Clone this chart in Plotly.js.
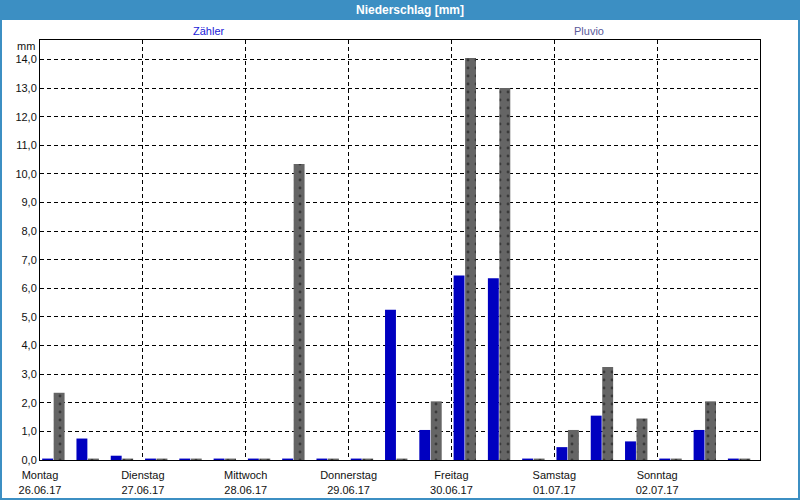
<!DOCTYPE html>
<html>
<head>
<meta charset="utf-8">
<script src="https://cdn.plot.ly/plotly-3.0.1.min.js"></script>
<style>html,body{margin:0;padding:0;background:#fff;}#chart{width:800px;height:500px;}</style>
</head>
<body>
<div id="chart"></div>
<script>
// ---- data ----
const dayNames = ["Montag", "Dienstag", "Mittwoch", "Donnerstag", "Freitag", "Samstag", "Sonntag"];
const dayDates = ["26.06.17", "27.06.17", "28.06.17", "29.06.17", "30.06.17", "01.07.17", "02.07.17"];
// three 8-hour intervals per day
const zaehler = [0.05, 0.75, 0.15, 0.05, 0.05, 0.05, 0.05, 0.05, 0.05, 0.05, 5.25, 1.05, 6.45, 6.35, 0.05, 0.45, 1.55, 0.65, 0.05, 1.05, 0.05];
const pluvio  = [2.35, 0.05, 0.05, 0.05, 0.05, 0.05, 0.05, 10.35, 0.05, 0.05, 0.05, 2.05, 14.05, 13.0, 0.05, 1.05, 3.25, 1.45, 0.05, 2.05, 0.05];
const seriesNames = ["Zähler", "Pluvio"];
const yMax = 14.68;

// ---- layout helpers ----
const W = 800, H = 500, L = 40, R = 40, T = 40, B = 40;
const pw = W - L - R, ph = H - T - B;
const px = x => (x - L) / pw;          // pixel -> paper x
const py = y => (H - B - y) / ph;      // pixel -> paper y

const slots = zaehler.map((_, i) => i);
const offset = 0.39;
const tickvals = dayNames.map((_, d) => 3 * d - offset);
const ticktext = dayNames.map((n, d) => n + "<br>" + dayDates[d]);

const font = "Liberation Sans, Arial, sans-serif";
const blue = "#0000c0";
const gray = "#656565";

const traces = [
  {type: "bar", x: slots, y: zaehler, name: seriesNames[0],
   marker: {color: blue, line: {width: 0}}, hoverinfo: "y"},
  {type: "bar", x: slots, y: pluvio, name: seriesNames[1],
   marker: {color: gray, line: {width: 0},
            pattern: {shape: ".", fgcolor: "#3a3a3a", bgcolor: gray, size: 8, solidity: 0.1}},
   hoverinfo: "y"}
];

const layout = {
  width: W, height: H,
  margin: {l: L, r: R, t: T, b: B, pad: 0},
  paper_bgcolor: "#ffffff", plot_bgcolor: "#ffffff",
  showlegend: false,
  separators: ",.",
  barmode: "group", bargap: 0.33, bargroupgap: 0.05,
  font: {family: font, size: 11, color: "#111"},
  xaxis: {
    range: [-offset, 21 - offset], tickmode: "array", tickvals: tickvals, ticktext: ticktext,
    showgrid: true, gridcolor: "#000", gridwidth: 1, griddash: "4px,3px",
    showline: true, mirror: true, linecolor: "#000", linewidth: 1,
    zeroline: false, ticks: "", ticklabelstandoff: 5,
    tickfont: {family: font, size: 11, color: "#111"},
    fixedrange: true
  },
  yaxis: {
    range: [0, yMax], dtick: 1, tick0: 0, tickformat: ".1f",
    showgrid: true, gridcolor: "#000", gridwidth: 1, griddash: "4px,3px",
    showline: true, mirror: true, linecolor: "#000", linewidth: 1,
    zeroline: false, ticks: "", tickfont: {family: font, size: 11, color: "#111"},
    fixedrange: true
  },
  shapes: [
    {type: "rect", xref: "paper", yref: "paper", x0: px(0), x1: px(800), y0: py(20), y1: py(0),
     fillcolor: "#3c8fc3", line: {width: 0}, layer: "above"},
    {type: "rect", xref: "paper", yref: "paper", x0: px(1), x1: px(799), y0: py(499), y1: py(10),
     fillcolor: "rgba(0,0,0,0)", line: {color: "#3c8fc3", width: 2}, layer: "above"}
  ],
  annotations: [
    {xref: "paper", yref: "paper", x: px(410), y: py(10), text: "<b>Niederschlag [mm]</b>", showarrow: false,
     xanchor: "center", yanchor: "middle", font: {family: font, size: 12, color: "#ffffff"}},
    {xref: "paper", yref: "paper", x: px(209), y: py(31), text: seriesNames[0], showarrow: false,
     xanchor: "center", yanchor: "middle", font: {family: font, size: 11, color: "#1a1ad8"}},
    {xref: "paper", yref: "paper", x: px(589), y: py(31), text: seriesNames[1], showarrow: false,
     xanchor: "center", yanchor: "middle", font: {family: font, size: 11, color: "#5a5a9a"}},
    {xref: "paper", yref: "paper", x: px(37), y: py(46), text: "mm", showarrow: false,
     xanchor: "right", yanchor: "middle", font: {family: font, size: 11, color: "#111"}}
  ]
};

Plotly.newPlot("chart", traces, layout, {staticPlot: true, displayModeBar: false});
</script>
</body>
</html>
